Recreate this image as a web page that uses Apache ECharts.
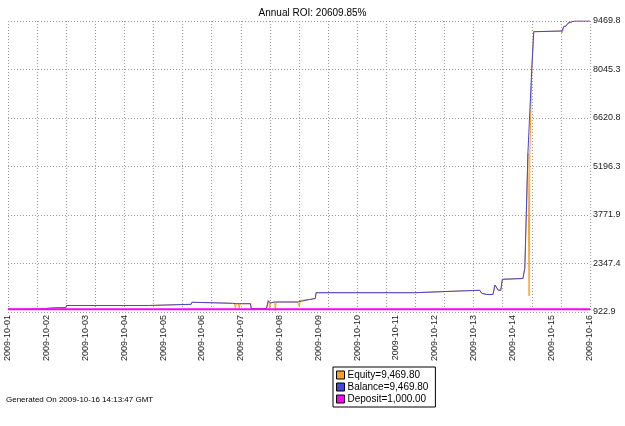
<!DOCTYPE html>
<html>
<head>
    <meta charset="utf-8">
    <title>Annual ROI</title>
    <script src="https://cdn.jsdelivr.net/npm/echarts@6/dist/echarts.min.js"></script>
</head>
<body style="margin:0;background:#fff;">
    <div id="main" style="width:625px;height:426px;"></div>
    <script type="text/javascript">
        // x = days since 2009-10-01 00:00
        var dateLabels = ['2009-10-01','2009-10-02','2009-10-03','2009-10-04','2009-10-05','2009-10-06','2009-10-07','2009-10-08',
                          '2009-10-09','2009-10-10','2009-10-11','2009-10-12','2009-10-13','2009-10-14','2009-10-15','2009-10-16'];
        var yTicks = ['922.9','2347.4','3771.9','5196.3','6620.8','8045.3','9469.8'];

        var balance = [[0,1002],[0.80,1011],[1.21,1046],[1.49,1050],[1.51,1114],[3.64,1114],[3.69,1134],[4.72,1149],[4.74,1208],
            [5.32,1193],[5.78,1178],[5.81,1137],[5.89,1167],[6.25,1167],[6.27,1020],[6.66,1020],[6.71,1255],[6.76,1187],
            [6.87,1217],[7.46,1217],[7.49,1255],[7.77,1290],[7.92,1319],[7.94,1490],[10.48,1490],[10.50,1531],[11.64,1540],
            [12.16,1560],[12.21,1472],[12.34,1437],[12.50,1437],[12.55,1716],[12.63,1569],[12.70,1555],[12.74,1883],
            [13.27,1907],[13.32,2206],[13.40,5584],[13.45,5584],[13.50,8081],[13.55,9155],[14.28,9176],[14.32,9302],
            [14.38,9323],[14.43,9402],[14.54,9449],[14.61,9470],[15,9470]];

        var equity = [[0,1002],[0.80,1011],[1.21,1046],[1.49,1050],[1.51,1114],[3.64,1114],[3.69,1134],[4.72,1149],[4.74,1208],
            [5.32,1193],[5.78,1178],[5.81,1137],[5.84,1167],[5.86,1032],[5.88,1167],[5.94,1167],[5.96,1032],[5.98,1167],
            [6.25,1167],[6.27,1020],[6.66,1020],[6.71,1255],[6.73,1187],[6.74,961],[6.76,1187],[6.87,1217],[6.89,961],
            [6.91,1217],[7.46,1217],[7.49,1255],[7.51,1070],[7.53,1260],[7.77,1290],[7.92,1319],[7.94,1490],[10.48,1490],
            [10.50,1531],[11.64,1540],[12.16,1560],[12.21,1472],[12.34,1437],[12.50,1437],[12.55,1716],[12.63,1569],
            [12.70,1555],[12.74,1883],[13.27,1907],[13.32,2206],[13.40,5584],[13.42,5584],[13.43,1393],[13.45,5584],
            [13.50,8081],[13.55,9155],[14.26,9176],[14.28,9117],[14.30,9176],[14.32,9302],[14.38,9323],[14.43,9402],
            [14.54,9449],[14.61,9470],[15,9470]];

        var deposit = [[0,1000],[15,1000]];

        var seriesNames = ['Equity','Balance','Deposit'];
        var legendValues = ['9,469.80','9,469.80','1,000.00'];

        var yMin = 922.9, yMax = 9469.8;
        var yStep = (yMax - yMin) / 6;
        var font = 'Liberation Sans, Arial, sans-serif';

        var myChart = echarts.init(document.getElementById('main'));

        var option = {
            animation: false,
            backgroundColor: '#fff',
            title: {
                text: 'Annual ROI: 20609.85%',
                left: 'center',
                top: 3,
                textStyle: {fontSize: 10, fontWeight: 'normal', color: '#000', fontFamily: font}
            },
            legend: {
                data: seriesNames,
                orient: 'vertical',
                left: 333,
                top: 367,
                padding: [3, 7, 3, 3],
                itemGap: 2,
                itemWidth: 8,
                itemHeight: 8,
                icon: 'rect',
                borderColor: '#000',
                borderWidth: 1,
                itemStyle: {borderColor: '#000', borderWidth: 1},
                textStyle: {fontSize: 10, color: '#000', fontFamily: font, padding: [0, 0, 0, -2]},
                formatter: function (name) {
                    return name + '=' + legendValues[seriesNames.indexOf(name)];
                }
            },
            graphic: [{
                type: 'text',
                left: 6,
                top: 396,
                style: {text: 'Generated On 2009-10-16 14:13:47 GMT', fontSize: 8, fill: '#000', font: '8px ' + font}
            }],
            grid: {left: 8, right: 35, top: 21, bottom: 114},
            xAxis: [{
                type: 'value', min: 0, max: 15, interval: 1,
                axisLine: {show: false}, axisTick: {show: false},
                splitLine: {show: false},
                axisLabel: {
                    rotate: 90, fontSize: 9, color: '#222', fontFamily: font, margin: 3,
                    formatter: function (v) { return dateLabels[Math.round(v)]; }
                }
            }, {
                type: 'value', min: 0, max: 15, interval: 0.75,
                axisLine: {show: false}, axisTick: {show: false}, axisLabel: {show: false},
                splitLine: {show: true, lineStyle: {color: '#999', type: [1, 2], width: 1}}
            }],
            yAxis: {
                type: 'value', position: 'right', min: yMin, max: yMax, interval: yStep,
                axisLine: {show: false}, axisTick: {show: false},
                splitLine: {show: true, lineStyle: {color: '#999', type: [1, 2], width: 1}},
                axisLabel: {
                    fontSize: 9, color: '#222', fontFamily: font, margin: 3,
                    showMaxLabel: true, showMinLabel: true, padding: [4, 0, 0, 0],
                    formatter: function (v) { return yTicks[Math.round((v - yMin) / yStep)]; }
                }
            },
            series: [{
                name: 'Equity', type: 'line', data: equity, showSymbol: false, symbol: 'none',
                lineStyle: {color: '#ffa020', width: 1}, itemStyle: {color: '#ffa020'}
            }, {
                name: 'Balance', type: 'line', data: balance, showSymbol: false, symbol: 'none',
                lineStyle: {color: '#4646d6', width: 1}, itemStyle: {color: '#4646e0'}
            }, {
                name: 'Deposit', type: 'line', data: deposit, showSymbol: false, symbol: 'none',
                lineStyle: {color: '#ff00ff', width: 2}, itemStyle: {color: '#ff00ff'}
            }]
        };

        myChart.setOption(option);
    </script>
</body>
</html>
